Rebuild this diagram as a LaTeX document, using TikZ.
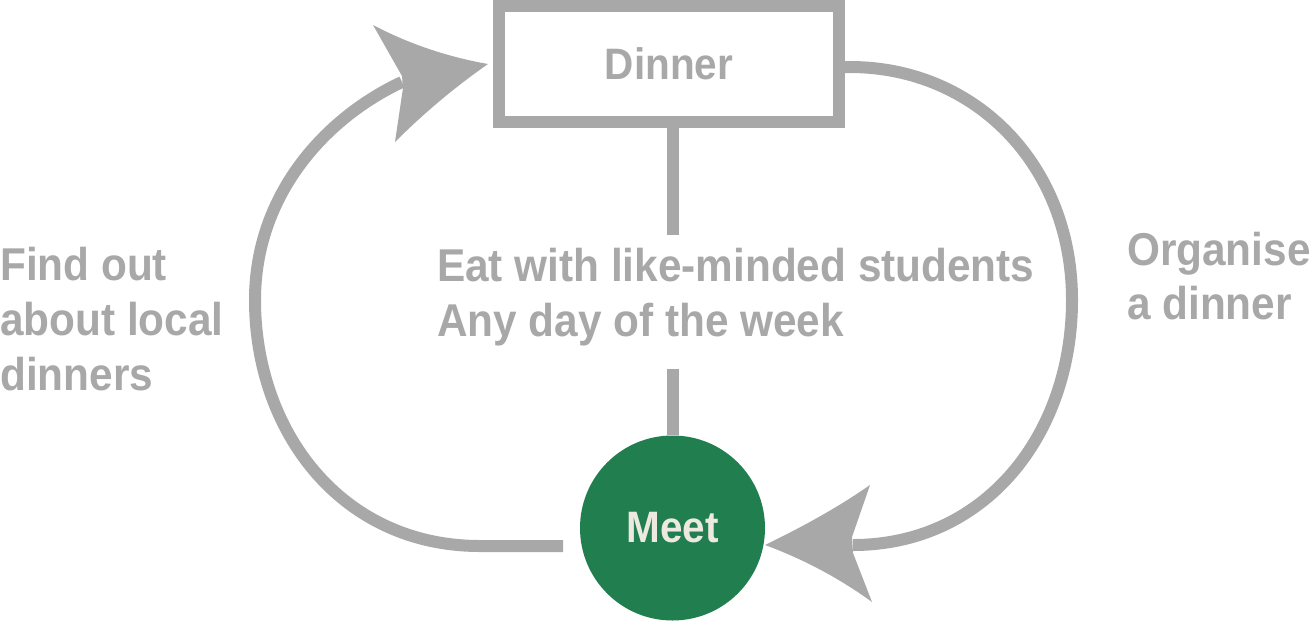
\documentclass[tikz,border=0pt]{standalone}
\usepackage{fontspec}
\newfontfamily\labfont{Liberation Sans}[FakeStretch=0.92, BoldFeatures={FakeStretch=0.92}]
\definecolor{lg}{HTML}{A8A8A8}
\definecolor{mgreen}{HTML}{217E4F}
\definecolor{cream}{HTML}{EDE8E0}
\tikzset{
  conn/.style={draw=lg, line width=12pt},
  headfill/.style={fill=lg},
  lbl/.style={text=lg, font=\labfont\bfseries\fontsize{46}{55}\selectfont, inner sep=0pt, anchor=base west},
}
\begin{document}
\begin{tikzpicture}[x=1pt,y=-1pt]
\useasboundingbox (0,0) rectangle (1315,625);
\fill[white] (0,0) rectangle (1315,625);

% nodes
\node[draw=lg, line width=12pt, minimum width=340pt, minimum height=116pt, inner sep=0pt,
      text=lg, font=\labfont\bfseries\fontsize{44}{53}\selectfont] (dinner) at (669,64) {Dinner};
\node[circle, fill=mgreen, minimum size=185pt, inner sep=0pt,
      text=cream, font=\labfont\bfseries\fontsize{44}{53}\selectfont] (meet) at (672.5,528) {Meet};

% labels
\node[lbl] (fa) at (0,280) {Find out};
\node[lbl] (fb) at (0,335) {about local};
\node[lbl] (fc) at (0,390) {dinners};
\node[lbl] (ea) at (437,281) {Eat with like-minded students};
\node[lbl] (eb) at (437,336) {Any day of the week};
\node[lbl] (oa) at (1127,265) {Organise};
\node[lbl] (ob) at (1127,319) {a dinner};

% stems
\coordinate (s1) at (672.5,235);
\coordinate (s2) at (672.5,369);
\draw[conn] (dinner.south -| meet.north) -- (s1);
\draw[conn] (s2) -- (meet.north);

% left loop
\coordinate (la) at (563,546);
\coordinate (ln) at (402,82);
\draw[conn] (la) -- (480,546) .. controls (340,546) and (255,430) .. (255,300)
   .. controls (255,195) and (325,118) .. (ln);
\fill[headfill] (488,64) .. controls (448,57) and (409,44) .. (373,25) -- (402,76) -- (403,88)
   -- (395,142) .. controls (424,113) and (455,87) .. (488,64) -- cycle;

% right loop
\coordinate (ra) at (840,67);
\coordinate (rn) at (853,545);
\draw[conn] (ra) -- (850,67) .. controls (975,67) and (1072,165) .. (1072,300)
   .. controls (1072,435) and (985,545) .. (rn);
\fill[headfill] (765,545) .. controls (802,527) and (837,508) .. (870,485) -- (852,537) -- (853,553)
   -- (872,602) .. controls (839,578) and (803,559) .. (765,545) -- cycle;
\end{tikzpicture}
\end{document}
